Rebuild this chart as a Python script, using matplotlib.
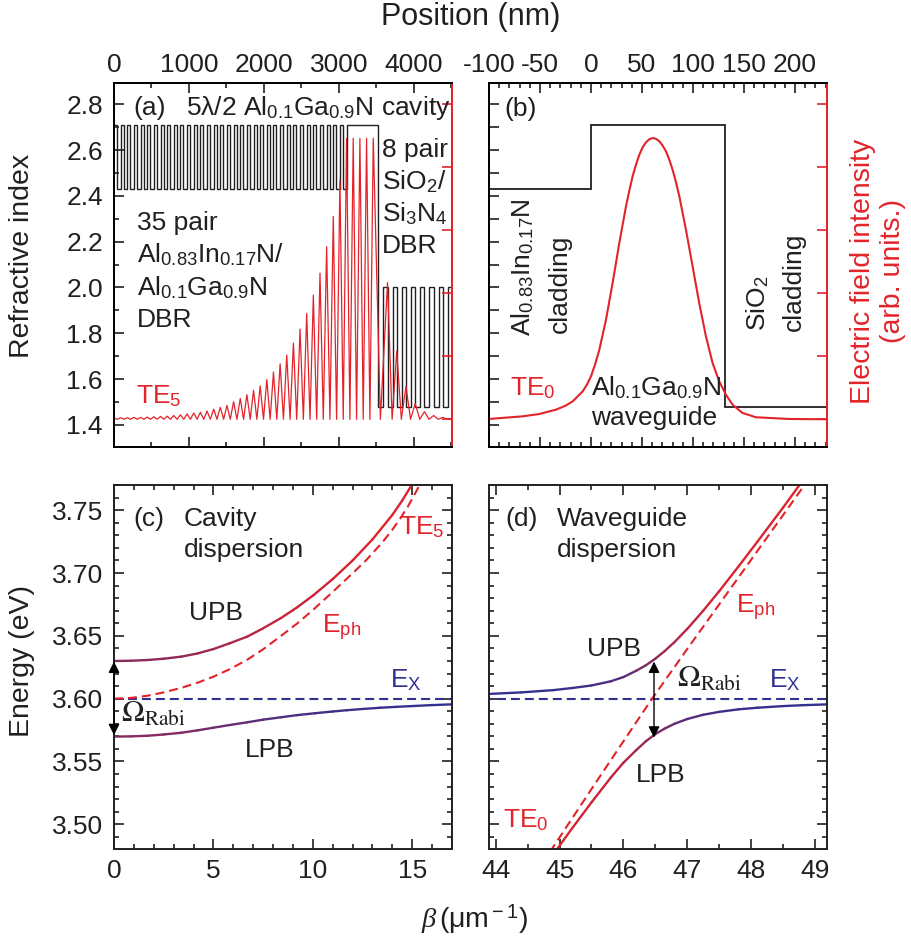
import numpy as np
import matplotlib.pyplot as plt
from matplotlib.collections import LineCollection
from matplotlib.colors import LinearSegmentedColormap
from matplotlib.ticker import MultipleLocator, FormatStrFormatter

plt.rcParams['font.family'] = ['Liberation Sans', 'DejaVu Sans']
plt.rcParams['mathtext.fontset'] = 'custom'
plt.rcParams['mathtext.rm'] = 'Liberation Sans'
plt.rcParams['mathtext.sf'] = 'Liberation Sans'
plt.rcParams['mathtext.it'] = 'Liberation Serif:italic'
plt.rcParams['mathtext.bf'] = 'Liberation Sans:bold'
plt.rcParams['axes.linewidth'] = 1.4
plt.rcParams['axes.unicode_minus'] = False

RED = '#e3232a'
BLUE = '#2e3192'
INK = '#231f20'

# ---------------- (a) microcavity layer stack and TE5 field ----------------
n_algan, n_alinn, n_sin, n_sio2 = 2.71, 2.43, 2.00, 1.48
dbr1_pairs = 35
dbr1_thick = [40.0, 48.6]          # AlGaN / AlInN (nm)
cavity_thick = 423.0
dbr2_pairs = 8
dbr2_thick = [67.0, 56.0]          # SiO2 / Si3N4 (nm)
cap_thick = 150.0
cav_field_period = 89.0

# field intensity peaks (arb. units)
field_dbr1 = [0.02, 0.025, 0.025, 0.03, 0.03, 0.035, 0.04, 0.045, 0.05, 0.06,
              0.07, 0.085, 0.10, 0.11, 0.13, 0.16, 0.19, 0.22, 0.28, 0.33,
              0.39, 0.46, 0.53, 0.63, 0.75, 0.88, 1.02, 1.21, 1.43, 1.68,
              1.97, 2.32, 2.74, 3.22, 3.80]
field_cav = [4.46, 4.46, 4.46, 4.46, 4.46]
field_dbr2 = [2.17, 1.08, 0.52, 0.25, 0.12, 0.06, 0.03, 0.015]

# ---------------- (b) waveguide ----------------
wg_edges = [-100, 0, 131, 240]
wg_index = [n_alinn, n_algan, n_sio2]
te0_pos = [-100, -67, -50.6, -34.3, -25, -17.9, -8.1, -4, 0, 4, 8.2, 14.7, 21.2,
           27.8, 34.3, 37.6, 40.8, 44.1, 47.4, 50.6, 53.9, 57.2, 60.4, 63.7, 67.0,
           70.2, 73.5, 76.8, 80.0, 83.3, 86.6, 93.1, 99.6, 106.1, 112.7, 119.2,
           125.7, 132.3, 138.8, 148.6, 161.7, 194.3, 232]
te0_int = [0.005, 0.047, 0.084, 0.153, 0.215, 0.285, 0.444, 0.55, 0.682, 0.87,
           1.105, 1.58, 2.163, 2.8, 3.38, 3.63, 3.857, 4.04, 4.2, 4.315, 4.397,
           4.445, 4.465, 4.452, 4.413, 4.345, 4.254, 4.12, 3.962, 3.765, 3.54,
           3.01, 2.43, 1.846, 1.317, 0.894, 0.603, 0.39, 0.232, 0.1, 0.032,
           0.005, 0.0]

# ---------------- (c) cavity dispersion ----------------
E_X = 3.60
RABI = 0.06
c_upb_b = [0, 0.85, 1.7, 2.5, 3.4, 4.2, 5.0, 5.8, 6.7, 7.5, 8.4, 9.2, 10.0, 11.0,
           12.0, 13.0, 14.0, 14.5, 15.0]
c_upb_e = [3.630, 3.6302, 3.6308, 3.6318, 3.6335, 3.636, 3.6395, 3.644, 3.6494,
           3.656, 3.6642, 3.6726, 3.682, 3.6952, 3.710, 3.7268, 3.7463, 3.7578,
           3.7708]
c_lpb_b = [0, 0.85, 1.7, 2.5, 3.4, 4.2, 5.0, 5.8, 6.7, 7.5, 8.4, 9.2, 10.1, 11.0,
           11.7, 12.5, 13.4, 14.2, 15.1, 16.0, 17.0]
c_lpb_e = [3.5698, 3.5700, 3.5705, 3.5715, 3.5729, 3.5748, 3.5769, 3.579, 3.5812,
           3.5833, 3.5852, 3.5869, 3.5884, 3.5898, 3.5908, 3.5918, 3.5928, 3.5935,
           3.5942, 3.5949, 3.5955]
c_ph_b = [0, 0.85, 1.7, 2.5, 3.4, 4.2, 5.0, 5.8, 6.7, 7.5, 8.4, 9.2, 10.0, 11.0,
          12.0, 12.7, 13.5, 14.0, 14.4, 14.8, 15.2, 15.4]
c_ph_e = [3.600, 3.6006, 3.6024, 3.605, 3.6087, 3.6127, 3.6175, 3.6233, 3.631,
          3.6393, 3.650, 3.6597, 3.6705, 3.685, 3.6998, 3.7105, 3.7245, 3.7345,
          3.7435, 3.7535, 3.765, 3.771]

# ---------------- (d) waveguide dispersion ----------------
d_upb_b = [43.9, 44.4, 44.9, 45.2, 45.5, 45.8, 46.0, 46.2, 46.35, 46.5, 46.65,
           46.8, 47.0, 47.25, 47.5, 47.8, 48.1, 48.5, 48.8]
d_upb_e = [3.6038, 3.6050, 3.6068, 3.6085, 3.6105, 3.6138, 3.6172, 3.6222, 3.6265,
           3.6318, 3.638, 3.645, 3.6555, 3.670, 3.6855, 3.705, 3.725, 3.752, 3.773]
d_lpb_b = [44.9, 45.2, 45.5, 45.8, 46.0, 46.2, 46.35, 46.5, 46.65, 46.8, 47.0,
           47.25, 47.5, 47.8, 48.1, 48.5, 48.8, 49.21]
d_lpb_e = [3.476, 3.497, 3.5174, 3.537, 3.549, 3.559, 3.566, 3.5718, 3.5763, 3.580,
           3.5838, 3.5872, 3.5895, 3.5915, 3.5928, 3.5941, 3.5948, 3.5955]
d_ph_b = [44.85, 45.5, 46.0, 46.45, 47.0, 47.5, 48.0, 48.5, 48.85]
d_ph_e = [3.478, 3.528, 3.566, 3.600, 3.6395, 3.675, 3.7105, 3.746, 3.771]

W, H = 912, 938
fig = plt.figure(figsize=(W / 100, H / 100), dpi=100)


def px_axes(l, t, r, b):
    return fig.add_axes([l / W, 1 - b / H, (r - l) / W, (b - t) / H])


def ptxt(x, y, s, **kw):
    kw.setdefault('ha', 'left')
    kw.setdefault('va', 'baseline')
    kw.setdefault('fontsize', 19)
    kw.setdefault('color', INK)
    fig.text(x / W, 1 - y / H, s, **kw)


def style(ax):
    ax.tick_params(which='both', direction='in', width=1.2, colors=INK,
                   labelsize=19, labelcolor=INK)
    ax.tick_params(which='major', length=7)
    ax.tick_params(which='minor', length=3.8)
    for s in ax.spines.values():
        s.set_color(INK)


pol_cmap = LinearSegmentedColormap.from_list('pol', [BLUE, RED])


def polariton(ax, b, e):
    b = np.asarray(b)
    e = np.asarray(e)
    pts = np.column_stack([b, e]).reshape(-1, 1, 2)
    segs = np.concatenate([pts[:-1], pts[1:]], axis=1)
    d = np.abs(e - E_X)
    frac = d ** 2 / (d ** 2 + (RABI / 2) ** 2)      # photon share -> colour
    mid = (frac[:-1] + frac[1:]) / 2
    lc = LineCollection(segs, colors=pol_cmap(mid), linewidths=1.7,
                        capstyle='round', joinstyle='round')
    ax.add_collection(lc)


# ======================= panel (a) =======================
axa = px_axes(114, 83, 452, 447)
style(axa)
thick = np.concatenate([np.tile(dbr1_thick, dbr1_pairs), [cavity_thick],
                        np.tile(dbr2_thick, dbr2_pairs), [cap_thick]])
index = np.concatenate([np.tile([n_algan, n_alinn], dbr1_pairs), [n_algan],
                        np.tile([n_sio2, n_sin], dbr2_pairs), [n_sio2]])
edges = np.concatenate([[0], np.cumsum(thick)])
axa.stairs(index, edges, baseline=None, color=INK, lw=1.0)
axa.set_xlim(0, 4507)
axa.set_ylim(1.3035, 2.893)
axa.xaxis.set_major_locator(MultipleLocator(1000))
axa.xaxis.set_minor_locator(MultipleLocator(500))
axa.yaxis.set_major_locator(MultipleLocator(0.2))
axa.yaxis.set_minor_locator(MultipleLocator(0.1))
axa.yaxis.set_major_formatter(FormatStrFormatter('%.1f'))
axa.tick_params(axis='x', which='both', top=True, bottom=True, labeltop=True,
                labelbottom=False, pad=4)
axa.tick_params(axis='y', which='both', left=True, right=False, pad=8)
axa.spines['right'].set_color(RED)

p1 = sum(dbr1_thick)
cav0 = dbr1_pairs * p1
cav1 = cav0 + cavity_thick
p2 = sum(dbr2_thick)
peak_x = [k * p1 for k in range(len(field_dbr1))]
peak_x += [cav0 + j * cav_field_period for j in range(len(field_cav))]
peak_x += [cav1 + (k + 1) * p2 for k in range(len(field_dbr2))]
peak_y = field_dbr1 + field_cav + field_dbr2
fx, fy = [], []
for i in range(len(peak_x)):
    fx.append(peak_x[i])
    fy.append(peak_y[i])
    if i + 1 < len(peak_x):
        fx.append((peak_x[i] + peak_x[i + 1]) / 2)
        fy.append(0.0)
fx.append(peak_x[-1] + p2 / 2)
fy.append(0.0)
fx.append(4600)
fy.append(0.0)

axa2 = axa.twinx()
axa2.plot(fx, fy, color=RED, lw=0.9)
axa2.set_ylim(-0.44, 5.338)
axa2.yaxis.set_major_locator(MultipleLocator(1))
axa2.tick_params(axis='y', direction='in', length=7, width=1.2, colors=RED,
                 labelright=False)
axa2.spines['right'].set_color(RED)
axa2.spines['right'].set_linewidth(1.4)

# ======================= panel (b) =======================
axb = px_axes(489, 83, 827, 447)
style(axb)
axb.stairs(wg_index, wg_edges, baseline=None, color=INK, lw=1.3)
axb.set_xlim(-100, 231.4)
axb.set_ylim(1.3035, 2.893)
axb.xaxis.set_major_locator(MultipleLocator(50))
axb.xaxis.set_minor_locator(MultipleLocator(10))
axb.yaxis.set_major_locator(MultipleLocator(0.1))
axb.tick_params(axis='x', which='both', top=True, bottom=True, labeltop=True,
                labelbottom=False, pad=4)
axb.tick_params(axis='y', which='both', left=True, right=False, labelleft=False)
axb.spines['right'].set_color(RED)

axb2 = axb.twinx()
axb2.plot(te0_pos, te0_int, color=RED, lw=1.5)
axb2.set_ylim(-0.44, 5.338)
axb2.yaxis.set_major_locator(MultipleLocator(1))
axb2.tick_params(axis='y', direction='in', length=7, width=1.2, colors=RED,
                 labelright=False)
axb2.spines['right'].set_color(RED)
axb2.spines['right'].set_linewidth(1.4)

# ======================= panel (c) =======================
axc = px_axes(114, 485, 452, 849.3)
style(axc)
axc.plot([0, 17], [E_X, E_X], color=BLUE, lw=1.5, ls=(0, (4.3, 2.4)))
axc.plot(c_ph_b, c_ph_e, color=RED, lw=1.5, ls=(0, (4.3, 2.4)))
polariton(axc, c_upb_b, c_upb_e)
polariton(axc, c_lpb_b, c_lpb_e)
axc.set_xlim(0, 17)
axc.set_ylim(3.4801, 3.7701)
axc.xaxis.set_major_locator(MultipleLocator(5))
axc.xaxis.set_minor_locator(MultipleLocator(1))
axc.yaxis.set_major_locator(MultipleLocator(0.05))
axc.yaxis.set_minor_locator(MultipleLocator(0.01))
axc.yaxis.set_major_formatter(FormatStrFormatter('%.2f'))
axc.tick_params(which='both', top=True, right=True)
axc.tick_params(axis='y', pad=8)
axc.tick_params(axis='x', pad=7)
axc.annotate('', xy=(0, 3.571), xytext=(0, 3.6295), annotation_clip=False,
             arrowprops=dict(arrowstyle='<|-|>,head_length=0.6,head_width=0.3',
                             color='k', lw=1.0, mutation_scale=11,
                             shrinkA=0, shrinkB=0))

# ======================= panel (d) =======================
axd = px_axes(489, 485, 827, 849.3)
style(axd)
axd.plot([43.8, 49.3], [E_X, E_X], color=BLUE, lw=1.5, ls=(0, (4.3, 2.4)))
axd.plot(d_ph_b, d_ph_e, color=RED, lw=1.5, ls=(0, (4.3, 2.4)))
polariton(axd, d_upb_b, d_upb_e)
polariton(axd, d_lpb_b, d_lpb_e)
axd.set_xlim(43.895, 49.19)
axd.set_ylim(3.4801, 3.7701)
axd.xaxis.set_major_locator(MultipleLocator(1))
axd.xaxis.set_minor_locator(MultipleLocator(0.5))
axd.yaxis.set_major_locator(MultipleLocator(0.05))
axd.yaxis.set_minor_locator(MultipleLocator(0.01))
axd.tick_params(which='both', top=True, right=True, labelleft=False)
axd.tick_params(axis='x', pad=7)
axd.annotate('', xy=(46.48, 3.569), xytext=(46.48, 3.6295),
             arrowprops=dict(arrowstyle='<|-|>,head_length=0.6,head_width=0.3',
                             color='k', lw=1.0, mutation_scale=11,
                             shrinkA=0, shrinkB=0))

# ======================= text =======================
# (a)
ptxt(133, 115, '(a)')
ptxt(186, 115, r'5λ/2 Al$_{0.1}$Ga$_{0.9}$N cavity')
ptxt(137, 230, '35 pair')
ptxt(137, 262, r'Al$_{0.83}$In$_{0.17}$N/')
ptxt(137, 295, r'Al$_{0.1}$Ga$_{0.9}$N')
ptxt(137, 327, 'DBR')
ptxt(382, 157, '8 pair')
ptxt(382, 189, r'SiO$_2$/')
ptxt(382, 221, r'Si$_3$N$_4$')
ptxt(382, 253, 'DBR')
ptxt(136, 403, r'TE$_5$', color=RED)
# (b)
ptxt(504, 116, '(b)')
rot = dict(rotation=90, rotation_mode='anchor', ha='left', va='baseline')
ptxt(530, 336, r'Al$_{0.83}$In$_{0.17}$N', **rot)
ptxt(567, 333, 'cladding', **rot)
ptxt(765, 331, r'SiO$_2$', **rot)
ptxt(801, 331, 'cladding', **rot)
ptxt(510, 395, r'TE$_0$', color=RED)
ptxt(591, 395, r'Al$_{0.1}$Ga$_{0.9}$N')
ptxt(591, 425, 'waveguide')
# (c)
ptxt(133, 526, '(c)')
ptxt(184, 526, 'Cavity')
ptxt(184, 557, 'dispersion')
ptxt(189, 620, 'UPB')
ptxt(322, 633, r'E$_{\rm ph}$', color=RED)
ptxt(399, 534, r'TE$_5$', color=RED)
ptxt(390, 687, r'E$_{\rm X}$', color=BLUE)
ptxt(245, 757, 'LPB')
ptxt(121, 722, r'$\Omega_{\rm Rabi}$', math_fontfamily='stix', fontsize=22)
# (d)
ptxt(505, 526, '(d)')
ptxt(557, 526, 'Waveguide')
ptxt(557, 557, 'dispersion')
ptxt(587, 656, 'UPB')
ptxt(677, 687, r'$\Omega_{\rm Rabi}$', math_fontfamily='stix', fontsize=22)
ptxt(769, 687, r'E$_{\rm X}$', color=BLUE)
ptxt(736, 613, r'E$_{\rm ph}$', color=RED)
ptxt(636, 782, 'LPB')
ptxt(503, 827, r'TE$_0$', color=RED)

# axis labels
ptxt(22, 256, 'Refractive index', rotation=90, ha='center', va='center', fontsize=20.5)
ptxt(22, 661, 'Energy (eV)', rotation=90, ha='center', va='center', fontsize=20.5)
ptxt(878, 271, 'Electric field intensity\n(arb. units.)', rotation=90, ha='center',
     va='center', multialignment='center', fontsize=20.5, color=RED)
ptxt(471, 17, 'Position (nm)', ha='center', va='center', fontsize=22)
ptxt(474, 919, r'$\beta\,$(μm$^{\rm -1}$)', ha='center', va='center', fontsize=20.5)

fig.savefig('out.png', dpi=100)
